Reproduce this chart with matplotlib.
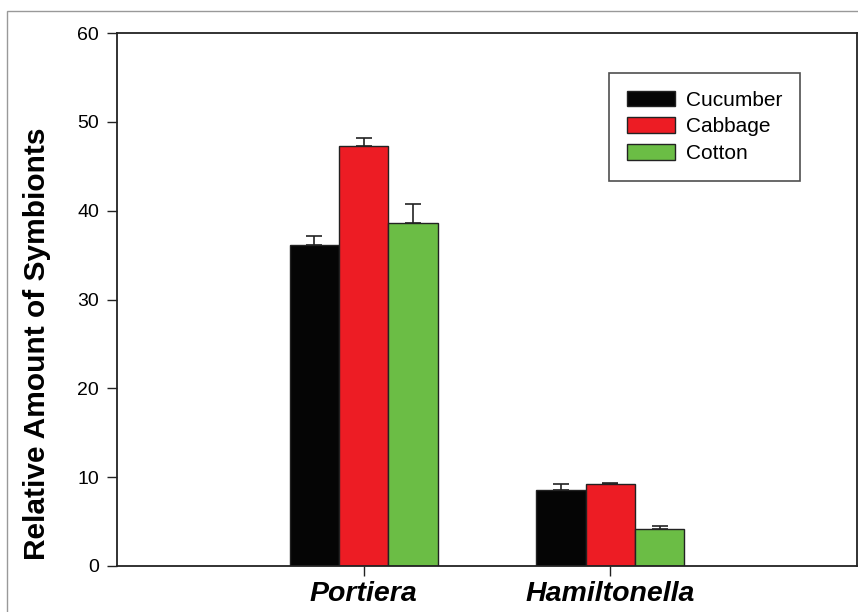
import matplotlib
matplotlib.use("Agg")
import matplotlib.pyplot as plt
from matplotlib.patches import Rectangle
import numpy as np

plt.rcParams['font.family'] = ['Liberation Sans', 'DejaVu Sans']

categories = ["Portiera", "Hamiltonella"]
hosts = ["Cucumber", "Cabbage", "Cotton"]
cucumber = [36.1, 8.5]
cabbage = [47.3, 9.2]
cotton = [38.6, 4.2]
cucumber_err = [1.0, 0.7]
cabbage_err = [0.9, 0.1]
cotton_err = [2.2, 0.35]
yticks = [0, 10, 20, 30, 40, 50, 60]

colors = ["#050505", "#ED1C24", "#6BBD45"]

W, H = 858, 612
fig = plt.figure(figsize=(W/100, H/100), dpi=100)
ax = fig.add_axes([117/W, (H-566)/H, (857-117)/W, (566-33)/H])

# figure border (partially visible)
fig.patches.append(Rectangle((7/W, -0.2), 1.5, 1 - 11/H + 0.2, transform=fig.transFigure,
                             fill=False, edgecolor="#999999", linewidth=1.0))

x = np.arange(1, len(categories) + 1)
width = 0.2
series = [cucumber, cabbage, cotton]
errs = [cucumber_err, cabbage_err, cotton_err]
for i, (vals, err, c, lab) in enumerate(zip(series, errs, colors, hosts)):
    pos = x + (i - 1) * width
    ax.bar(pos, vals, width, color=c, edgecolor="#222222", linewidth=1.0, label=lab, zorder=2)
    ax.errorbar(pos, vals, yerr=[np.zeros(len(vals)), err], fmt="none", ecolor="#222222",
                elinewidth=1.2, capsize=5.8, capthick=1.2, zorder=3)

ax.set_xlim(0, 3)
ax.set_ylim(0, 60)
ax.set_yticks(yticks)
ax.set_yticklabels([str(t) for t in yticks], fontsize=14)
ax.set_xticks(x)
ax.set_xticklabels(categories, fontsize=20.5, fontweight="bold", fontstyle="italic")
ax.tick_params(axis="both", direction="out", length=7, width=1.0, color="#222222")
ax.tick_params(axis="y", pad=6)
ax.tick_params(axis="x", pad=4)
for s in ax.spines.values():
    s.set_linewidth(1.3)
    s.set_color("#222222")

ax.set_ylabel("Relative Amount of Symbionts", fontsize=21.5, fontweight="bold")
ax.yaxis.set_label_coords(-(117-51)/740, 0.417)

leg = ax.legend(loc="upper left", bbox_to_anchor=((609-117)/740, (566-73)/533),
                fontsize=15, frameon=True, fancybox=False, edgecolor="#222222",
                handlelength=2.3, handleheight=0.77, labelspacing=0.37,
                borderpad=0.85, handletextpad=0.55, borderaxespad=0)
leg.get_frame().set_linewidth(1.2)

fig.savefig("out.png", dpi=100)
